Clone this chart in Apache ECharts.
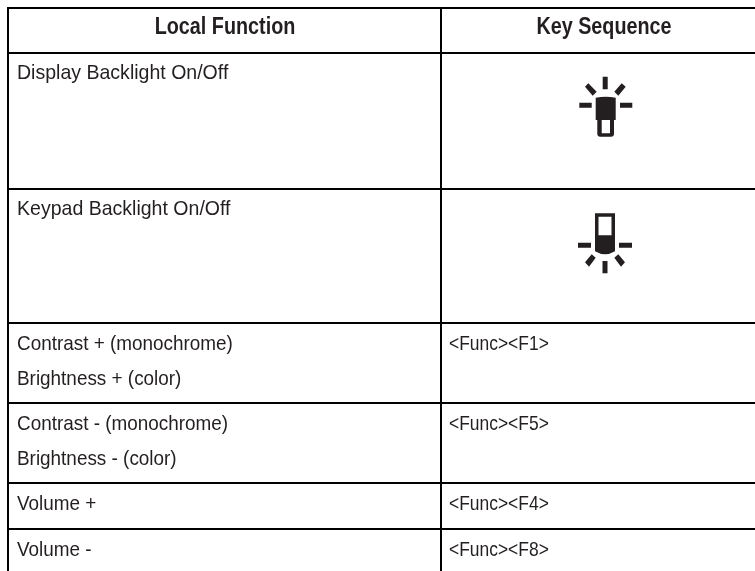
<!DOCTYPE html>
<html>
<head>
<meta charset="utf-8">
<title>Local functions</title>
<script src="https://cdn.jsdelivr.net/npm/echarts@6/dist/echarts.min.js"></script>
<style>
  html, body { margin: 0; padding: 0; background: #fff; }
  #chart { width: 755px; height: 571px; }
</style>
</head>
<body>
<div id="chart"></div>
<script>
const headers = ['Local Function', 'Key Sequence'];
const functionLines = [
  ['Display Backlight On/Off'],
  ['Keypad Backlight On/Off'],
  ['Contrast + (monochrome)', 'Brightness + (color)'],
  ['Contrast - (monochrome)', 'Brightness - (color)'],
  ['Volume +'],
  ['Volume -']
];
const keySequences = ['', '', '<Func><F1>', '<Func><F5>', '<Func><F4>', '<Func><F8>'];
const keyIcons = ['display', 'keypad', '', '', '', ''];

// table layout, in pixels of the page
const rowLines = [8, 53, 189, 323, 403, 483, 529];
const columnLines = [8, 441];
const textLeft = [17, 449];
const headerCenter = [225, 604];
const headerY = 28;
const firstLineY = [73, 209.5, 344.5, 424, 504, 550];
const secondLineOffset = 35;
const iconCenter = { display: [605.8, 106.7], keypad: [605, 243.3] };
const iconSize = { display: [53, 60], keypad: [54, 60] };

const iconPaths = {
  display: 'path://M23.4 0H28.4V12.6H23.4Z M0 26H12.4V31H0Z M40.7 26H53V31H40.7Z ' +
    'M5.7 10L9 6.6L17.4 15L13.4 19Z M35 15L42.4 6.6L46.4 10L39 19Z ' +
    'M16.4 21Q26.5 19 36.4 21V43.3H34.7V57Q34.7 60 31.7 60H21Q18 60 18 57V43.3H16.4Z ' +
    'M22.4 43.3V56.6H30.7V43.3Z',
  keypad: 'path://M17 0H37V38Q27 44 17 38Z M20.5 3.5V22H33.5V3.5Z ' +
    'M0 29.5H13V34.5H0Z M41 29.5H54V34.5H41Z M24.5 47.7H29.5V60H24.5Z ' +
    'M7 49L13.7 41L17.7 44.4L11 53.4Z M47 49L40.3 41L36.3 44.4L43 53.4Z'
};

const ink = '#231f20';
const fontFamily = '"Liberation Sans", sans-serif';
const rightEdge = 755;
const bottomEdge = 571;

// Liberation Sans is wider than the condensed face of the original, so squeeze it
const textItems = [];
headers.forEach((text, i) => {
  textItems.push({ value: [headerCenter[i], headerY], text, font: 'bold 23px ' + fontFamily, align: 'center', squeeze: 0.86 });
});
functionLines.forEach((lines, row) => {
  lines.forEach((text, i) => {
    textItems.push({
      value: [textLeft[0], firstLineY[row] + i * secondLineOffset],
      text, font: '21px ' + fontFamily, align: 'left', squeeze: row < 2 ? 0.93 : 0.9
    });
  });
  if (keySequences[row]) {
    textItems.push({
      value: [textLeft[1], firstLineY[row]],
      text: keySequences[row], font: '21px ' + fontFamily, align: 'left', squeeze: 0.83
    });
  }
});

const iconItems = keyIcons.filter(Boolean).map(name => ({
  value: iconCenter[name],
  symbol: iconPaths[name],
  symbolSize: iconSize[name]
}));

const ruleItems = [
  ...rowLines.map(y => [columnLines[0] - 1, y, rightEdge, y]),
  ...columnLines.map(x => [x, rowLines[0] - 1, x, bottomEdge])
];

const chart = echarts.init(document.getElementById('chart'));
chart.setOption({
  animation: false,
  backgroundColor: '#fff',
  grid: { left: 0, right: 0, top: 0, bottom: 0 },
  xAxis: { type: 'value', min: 0, max: rightEdge, show: false },
  yAxis: { type: 'value', min: 0, max: bottomEdge, inverse: true, show: false },
  series: [
    {
      type: 'custom',
      silent: true,
      data: ruleItems,
      renderItem: (params, api) => {
        const a = api.coord([api.value(0), api.value(1)]);
        const b = api.coord([api.value(2), api.value(3)]);
        return {
          type: 'line',
          shape: { x1: a[0], y1: a[1], x2: b[0], y2: b[1] },
          style: { stroke: '#000', lineWidth: 2 }
        };
      }
    },
    {
      type: 'scatter',
      silent: true,
      itemStyle: { color: ink, opacity: 1 },
      data: iconItems
    },
    {
      type: 'custom',
      silent: true,
      data: textItems.map(t => t.value),
      renderItem: (params, api) => {
        const item = textItems[params.dataIndex];
        const p = api.coord([api.value(0), api.value(1)]);
        return {
          type: 'text',
          x: p[0],
          y: p[1],
          scaleX: item.squeeze,
          style: {
            text: item.text,
            fill: ink,
            align: item.align,
            verticalAlign: 'middle',
            font: item.font
          }
        };
      }
    }
  ]
});
</script>
</body>
</html>
